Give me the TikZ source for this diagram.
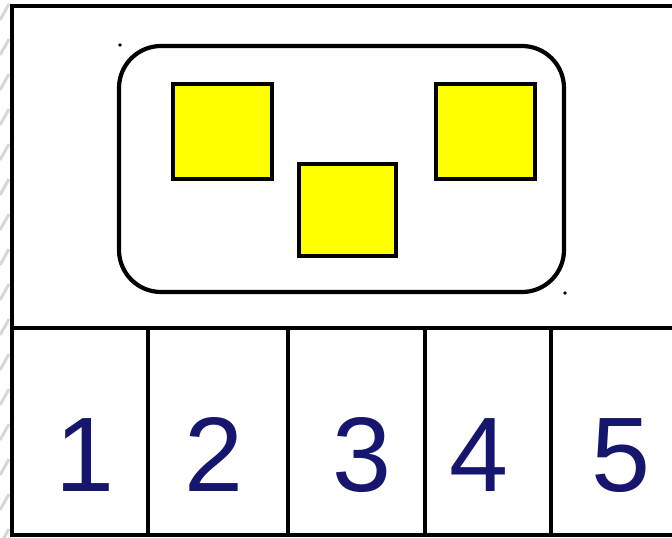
\documentclass[tikz,border=0pt]{standalone}
\usepackage{fontspec}
\setmainfont{Liberation Sans}
\definecolor{navy}{RGB}{22,22,110}
\definecolor{pinyellow}{RGB}{255,255,0}
\definecolor{hatch}{RGB}{215,215,215}
\begin{document}
\begin{tikzpicture}[x=1pt,y=-1pt,
  frame/.style={draw=black,line width=4.8pt},
  cellbox/.style={draw=black,line width=4.5pt,inner sep=0pt,outer sep=0pt},
  housing/.style={draw=black,line width=4.2pt,rounded corners=42pt},
  pin/.style={draw=black,fill=pinyellow,line width=4.6pt},
  digit/.style={text=navy,font=\fontsize{106}{106}\selectfont,anchor=base,inner sep=0pt},
  speck/.style={fill=black}]
\useasboundingbox (0,0) rectangle (672,538);
\fill[white] (0,0) rectangle (672,538);
% faint hatching at the left edge
\foreach \y in {20,55,90,125,160,195,230,265,300,335,370,405,440,475,510,545}
  \draw[hatch,line width=3pt] (0,\y) -- (9,\y-16);
% outer frame
\draw[frame] (12,6) -- (675,6);
\draw[frame] (12,3.6) -- (12,537.4);
\draw[frame] (12,535) -- (675,535);
\draw[frame] (12,328) -- (675,328);
% cells
\foreach \a/\b/\n in {12/148/1,148/288/2,288/425/3,425/551/4,551/675/5}
  \path (\a,328) coordinate (c\n tl) rectangle (\b,535) coordinate (c\n br);
\foreach \x in {148,288,425,551}
  \draw[cellbox] (\x,328) -- (\x,535);
% digits
\node[digit] (d1) at (85,491) {1};
\node[digit] (d2) at (214,491) {2};
\node[digit] (d3) at (362,491) {3};
\node[digit] (d4) at (479,491) {4};
\node[digit] (d5) at (621,491) {5};
% housing
\draw[housing] (119,46) rectangle (564,292);
% pins
\draw[pin] (173,84) rectangle (272,179);
\draw[pin] (299,164) rectangle (396,256);
\draw[pin] (436,84) rectangle (535,179);
% specks
\fill[speck] (120,45) circle (1.8pt);
\fill[speck] (565,293) circle (1.8pt);
\end{tikzpicture}
\end{document}
